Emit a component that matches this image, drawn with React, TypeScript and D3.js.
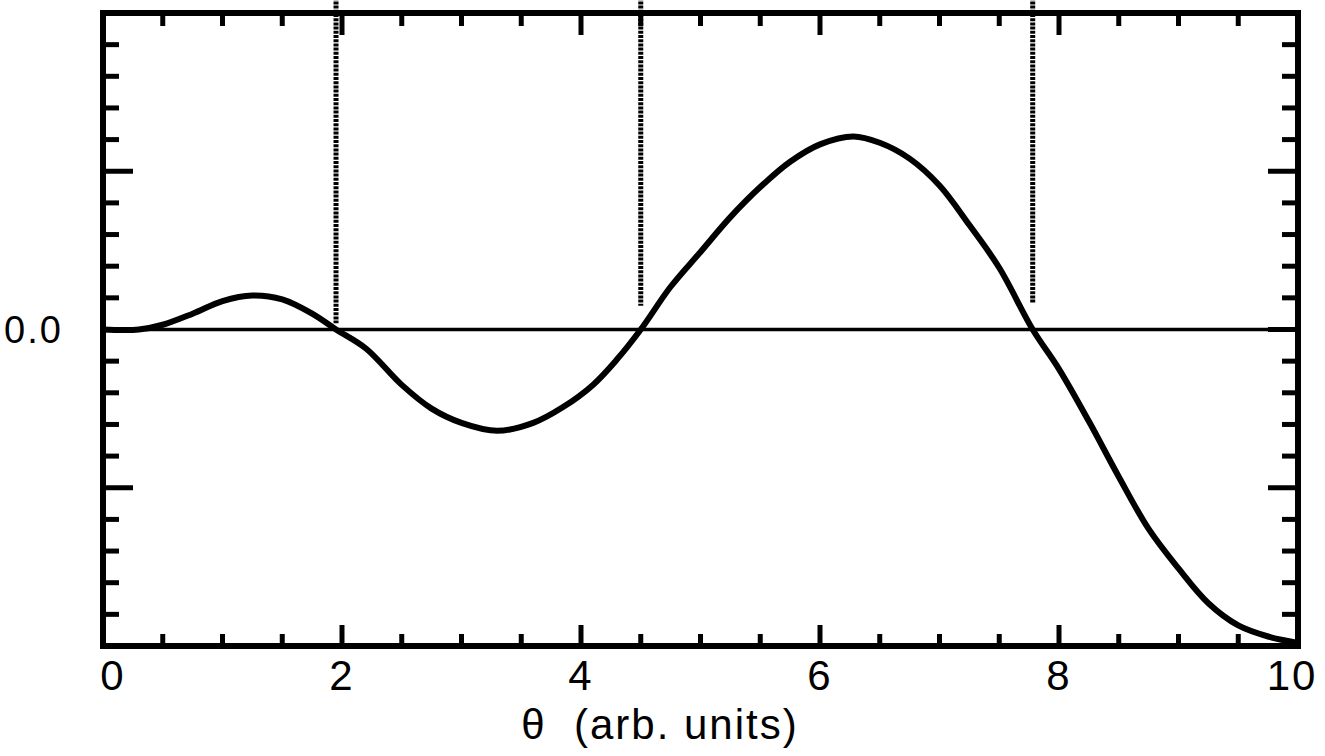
import React, { useEffect, useRef } from 'react'
import * as d3 from 'd3'

// curve (theta, signal)
const theta = [0, 0.3, 0.5, 0.75, 1.0, 1.25, 1.5, 1.75, 1.95, 2.2, 2.5, 2.75, 3.0, 3.3, 3.6, 3.85, 4.1, 4.3, 4.5, 4.75, 5.0, 5.25, 5.5, 5.75, 6.0, 6.28, 6.5, 6.75, 7.0, 7.25, 7.5, 7.78, 8.0, 8.25, 8.5, 8.75, 9.0, 9.25, 9.5, 9.75, 10]
const signal = [0, 0, 0.03, 0.1, 0.18, 0.215, 0.19, 0.1, 0, -0.12, -0.35, -0.5, -0.59, -0.64, -0.59, -0.49, -0.35, -0.19, 0, 0.27, 0.49, 0.71, 0.9, 1.06, 1.17, 1.22, 1.18, 1.08, 0.91, 0.66, 0.39, 0, -0.25, -0.58, -0.93, -1.26, -1.51, -1.73, -1.87, -1.94, -1.98]

// dotted markers at the zero crossings
const markerTheta = [1.95, 4.5, 7.78]
const markerBottom = [0.04, 0.15, 0.17]

const xTickLabels = ['0', '2', '4', '6', '8', '10']
const xLabelValues = [0, 2, 4, 6, 8, 10]

const W = 1325
const H = 756

const App = () => {
  const ref = useRef<SVGGElement>(null)

  useEffect(() => {
    const g = d3.select(ref.current)
    g.selectAll('*').remove()

    const x = d3.scaleLinear().domain([0, 10]).range([103, 1298])
    const y = d3.scaleLinear().domain([-2, 2]).range([646, 13])

    const xMinor = d3.range(0.5, 10, 0.5)
    const yMinor = d3.range(-1.8, 2, 0.2).map((v) => +v.toFixed(1))

    const isMajorX = (v: number) => v % 2 === 0
    const isMajorY = (v: number) => Math.abs(v - Math.round(v)) < 1e-6

    // dotted verticals (drawn first, frame on top)
    g.selectAll('.marker')
      .data(markerTheta)
      .join('line')
      .attr('x1', (d) => x(d))
      .attr('x2', (d) => x(d))
      .attr('y1', y(2.1))
      .attr('y2', (d, i) => y(markerBottom[i]))
      .attr('stroke', '#000')
      .attr('stroke-width', 5)
      .attr('stroke-dasharray', '3 1.2')

    // zero line
    g.append('line')
      .attr('x1', x(0)).attr('x2', x(10))
      .attr('y1', y(0)).attr('y2', y(0))
      .attr('stroke', '#000').attr('stroke-width', 3.5)

    // x ticks, bottom and top, pointing inwards
    g.selectAll('.xb')
      .data(xMinor)
      .join('line')
      .attr('x1', (d) => x(d)).attr('x2', (d) => x(d))
      .attr('y1', y(-2))
      .attr('y2', (d) => y(-2) - (isMajorX(d) ? 21 : 12))
      .attr('stroke', '#000').attr('stroke-width', 5)
    g.selectAll('.xt')
      .data(xMinor)
      .join('line')
      .attr('x1', (d) => x(d)).attr('x2', (d) => x(d))
      .attr('y1', y(2))
      .attr('y2', (d) => y(2) + (isMajorX(d) ? 22 : 13))
      .attr('stroke', '#000').attr('stroke-width', 5)

    // y ticks, left and right
    g.selectAll('.yl')
      .data(yMinor)
      .join('line')
      .attr('x1', x(0))
      .attr('x2', (d) => x(0) + (isMajorY(d) ? 30 : 16))
      .attr('y1', (d) => y(d)).attr('y2', (d) => y(d))
      .attr('stroke', '#000').attr('stroke-width', 5)
    g.selectAll('.yr')
      .data(yMinor)
      .join('line')
      .attr('x1', x(10))
      .attr('x2', (d) => x(10) - (isMajorY(d) ? 30 : 16))
      .attr('y1', (d) => y(d)).attr('y2', (d) => y(d))
      .attr('stroke', '#000').attr('stroke-width', 5)

    // frame
    g.append('rect')
      .attr('x', x(0)).attr('y', y(2))
      .attr('width', x(10) - x(0)).attr('height', y(-2) - y(2))
      .attr('fill', 'none').attr('stroke', '#000').attr('stroke-width', 6)

    // curve
    const pts: [number, number][] = theta.map((t, i) => [t, signal[i]])
    const line = d3.line<[number, number]>()
      .x((d) => x(d[0]))
      .y((d) => y(d[1]))
      .curve(d3.curveCatmullRom.alpha(0.5))
    g.append('path')
      .datum(pts)
      .attr('d', line)
      .attr('fill', 'none')
      .attr('stroke', '#000')
      .attr('stroke-width', 6)
      .attr('stroke-linejoin', 'round')
      .attr('stroke-linecap', 'round')

    // labels
    const font = 'Liberation Sans, Arial, Helvetica, sans-serif'
    g.selectAll('.xl')
      .data(xLabelValues)
      .join('text')
      .attr('x', (d) => x(d) + (d === 0 ? 10 : d === 10 ? -6 : 0))
      .attr('y', 690)
      .attr('text-anchor', 'middle')
      .attr('font-family', font)
      .attr('font-size', 42)
      .attr('letter-spacing', 2)
      .text((d, i) => xTickLabels[i])

    g.append('text')
      .attr('x', 4)
      .attr('y', y(0) + 13)
      .attr('font-family', font)
      .attr('font-size', 38)
      .attr('letter-spacing', 2)
      .text('0.0')

    g.append('text')
      .attr('x', 660)
      .attr('y', 739)
      .attr('text-anchor', 'middle')
      .attr('font-family', font)
      .attr('font-size', 42)
      .attr('letter-spacing', 2)
      .attr('xml:space', 'preserve')
      .text('θ  (arb. units)')
  }, [])

  return (
    <svg width={W} height={H} style={{ position: 'absolute', left: 0, top: 0, background: '#fff' }}>
      <g ref={ref} />
    </svg>
  )
}

export default App
